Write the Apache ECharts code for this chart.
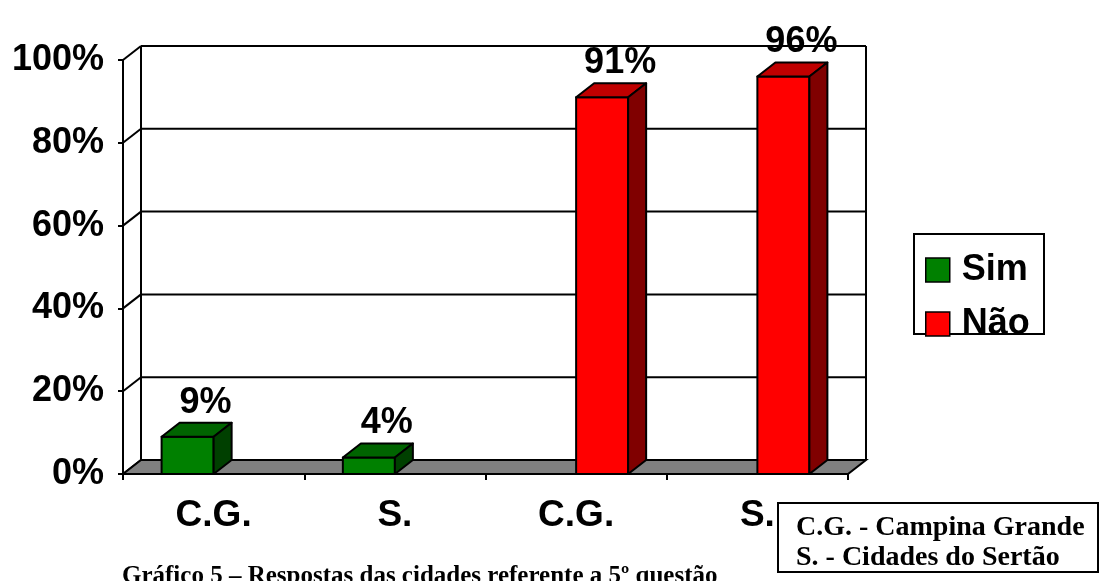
<!DOCTYPE html>
<html>
<head>
<meta charset="utf-8">
<script src="https://cdn.jsdelivr.net/npm/echarts@6/dist/echarts.min.js"></script>
<style>
  html, body { margin: 0; padding: 0; background: #fff; }
  #chart { width: 1099px; height: 581px; }
</style>
</head>
<body>
<div id="chart"></div>
<script>
// Categories along the floor and the two answer series (percent)
const categories = ['C.G.', 'S.', 'C.G.', 'S.'];
const simValues = [9, 4, null, null];
const naoValues = [null, null, 91, 96];
const yTicks = [0, 20, 40, 60, 80, 100];

// Pseudo-3D look: depth offset of the box and faces
const DX = 18, DY = -14;
const BAR_RATIO = 0.287; // bar width as a share of the category band
const LW = 2;
const SANS = "'Liberation Sans', Arial, sans-serif";
const SERIF = "'Liberation Serif', 'Times New Roman', serif";

const chart = echarts.init(document.getElementById('chart'), null, { renderer: 'canvas' });

// Walls, back grid lines and the grey floor
function renderFrame(params, api) {
  const cs = params.coordSys;
  const left = cs.x, right = cs.x + cs.width;
  const y0 = api.coord([0, 0])[1];
  const yTop = api.coord([0, yTicks[yTicks.length - 1]])[1];
  const line = { stroke: '#000', lineWidth: LW };
  const children = [];
  yTicks.forEach(function (t) {
    const y = api.coord([0, t])[1];
    if (t > 0) {
      children.push({ type: 'line', shape: { x1: left + DX, y1: y + DY, x2: right + DX, y2: y + DY }, style: line });
    }
    children.push({ type: 'line', shape: { x1: left, y1: y, x2: left + DX, y2: y + DY }, style: line });
  });
  children.push({ type: 'line', shape: { x1: left + DX, y1: y0 + DY, x2: left + DX, y2: yTop + DY }, style: line });
  children.push({ type: 'line', shape: { x1: right + DX, y1: y0 + DY, x2: right + DX, y2: yTop + DY }, style: line });
  children.push({
    type: 'polygon',
    shape: { points: [[left, y0], [right, y0], [right + DX, y0 + DY], [left + DX, y0 + DY]] },
    style: { fill: '#808080', stroke: '#000', lineWidth: LW }
  });
  return { type: 'group', children: children };
}

// One 3D bar: front, top and side faces plus its value label
function makeBarRenderer(shift, front, topC, sideC) {
  return function (params, api) {
    const v = api.value(1);
    if (v == null || isNaN(v)) return null;
    const ci = api.value(0);
    const base = api.coord([ci, 0]);
    const top = api.coord([ci, v]);
    const w = api.size([1, 0])[0] * BAR_RATIO;
    const x0 = base[0] + shift * w;
    const yb = base[1], yt = top[1];
    const edge = { stroke: '#000', lineWidth: LW, lineJoin: 'round' };
    return {
      type: 'group',
      children: [
        { type: 'rect', shape: { x: x0, y: yt, width: w, height: yb - yt }, style: Object.assign({ fill: front }, edge) },
        { type: 'polygon', shape: { points: [[x0, yt], [x0 + DX, yt + DY], [x0 + w + DX, yt + DY], [x0 + w, yt]] }, style: Object.assign({ fill: topC }, edge) },
        { type: 'polygon', shape: { points: [[x0 + w, yt], [x0 + w + DX, yt + DY], [x0 + w + DX, yb + DY], [x0 + w, yb]] }, style: Object.assign({ fill: sideC }, edge) },
        {
          type: 'text',
          style: {
            text: v + '%', x: x0 + w / 2 + DX, y: yt + DY - 2,
            align: 'center', verticalAlign: 'bottom',
            font: 'bold 36px ' + SANS, fill: '#000'
          }
        }
      ]
    };
  };
}

const option = {
  animation: false,
  backgroundColor: '#fff',
  grid: { left: 123, right: 251, top: 60, bottom: 107, containLabel: false },
  xAxis: {
    type: 'category',
    data: categories,
    boundaryGap: true,
    axisLine: { show: true, lineStyle: { color: '#000', width: LW } },
    axisTick: { show: true, length: 6, lineStyle: { color: '#000', width: LW } },
    axisLabel: { color: '#000', fontFamily: SANS, fontWeight: 'bold', fontSize: 37, margin: 23 },
    splitLine: { show: false }
  },
  yAxis: {
    type: 'value',
    min: 0, max: 100, interval: 20,
    axisLine: { show: true, lineStyle: { color: '#000', width: LW } },
    axisTick: { show: true, length: 5, lineStyle: { color: '#000', width: LW } },
    axisLabel: { color: '#000', fontFamily: SANS, fontWeight: 'bold', fontSize: 36, margin: 19, formatter: '{value}%' },
    splitLine: { show: false }
  },
  legend: {
    data: ['Sim', 'Não'],
    orient: 'vertical',
    left: 925, top: 252,
    padding: 0,
    icon: 'rect',
    itemWidth: 24, itemHeight: 24,
    itemGap: 18,
    itemStyle: { borderColor: '#000', borderWidth: 1.5 },
    textStyle: { color: '#000', fontFamily: SANS, fontWeight: 'bold', fontSize: 36, lineHeight: 26, padding: [0, 0, 0, 7] }
  },
  graphic: [
    { type: 'rect', left: 913, top: 233, z: -1, shape: { width: 130, height: 100 }, style: { fill: '#fff', stroke: '#000', lineWidth: 2 } },
    {
      type: 'group', left: 777, top: 502, children: [
        { type: 'rect', shape: { x: 0, y: 0, width: 320, height: 69 }, style: { fill: '#fff', stroke: '#000', lineWidth: 2 } },
        { type: 'text', style: { x: 18, y: 25, text: 'C.G. - Campina Grande', font: 'bold 28px ' + SERIF, fill: '#000', verticalAlign: 'middle' } },
        { type: 'text', style: { x: 18, y: 55, text: 'S. - Cidades do Sertão', font: 'bold 28px ' + SERIF, fill: '#000', verticalAlign: 'middle' } }
      ]
    },
    { type: 'text', left: 122, top: 564, style: { text: 'Gráfico 5 – Respostas das cidades referente a 5º questão', font: 'bold 25px ' + SERIF, fill: '#000' } }
  ],
  series: [
    { type: 'custom', name: 'frame', z: 1, silent: true, renderItem: renderFrame, data: [[0, 0]], encode: { x: 0, y: 1 } },
    {
      type: 'custom', name: 'Sim', z: 3,
      itemStyle: { color: '#008000' },
      renderItem: makeBarRenderer(-1, '#008000', '#006400', '#004000'),
      encode: { x: 0, y: 1 },
      data: simValues.map(function (v, i) { return [i, v]; })
    },
    {
      type: 'custom', name: 'Não', z: 3,
      itemStyle: { color: '#ff0000' },
      renderItem: makeBarRenderer(0, '#ff0000', '#c00000', '#800000'),
      encode: { x: 0, y: 1 },
      data: naoValues.map(function (v, i) { return [i, v]; })
    }
  ]
};
chart.setOption(option);
</script>
</body>
</html>
